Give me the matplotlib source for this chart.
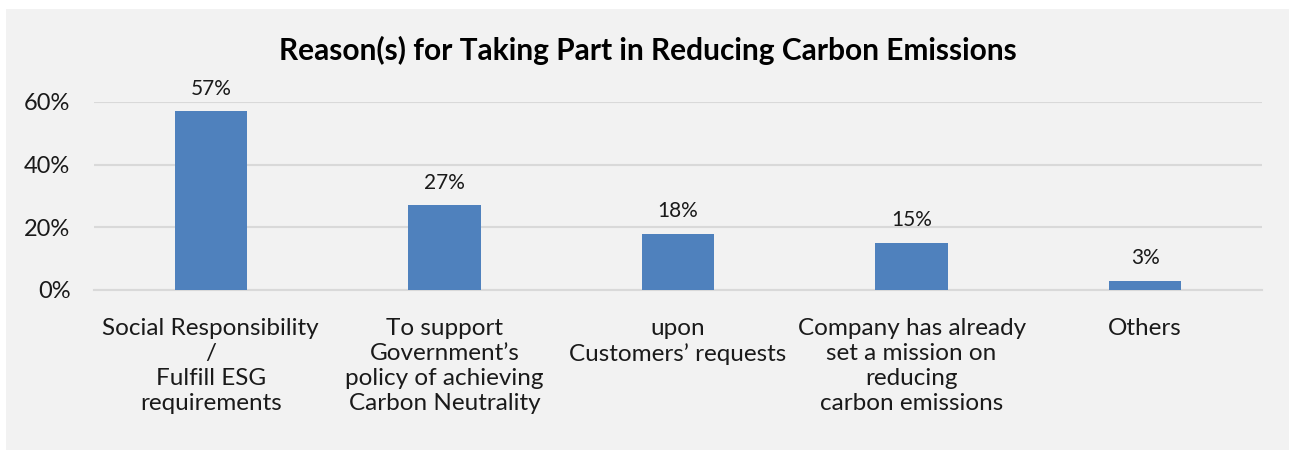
import matplotlib.pyplot as plt
from matplotlib.patches import Rectangle
from matplotlib.ticker import PercentFormatter

plt.rcParams['font.family'] = ['Lato', 'DejaVu Sans']

# survey results
reasons = [
    "Social Responsibility\n/\nFulfill ESG\nrequirements",
    "To support\nGovernment\u2019s\npolicy of achieving\nCarbon Neutrality",
    "upon\nCustomers\u2019 requests",
    "Company has already\nset a mission on\nreducing\ncarbon emissions",
    "Others",
]
shares = [0.57, 0.27, 0.18, 0.15, 0.03]
y_ticks = [0.0, 0.2, 0.4, 0.6]

bar_color = '#4f81bd'
grid_color = '#d9d9d9'
bg_color = '#f2f2f2'

fig = plt.figure(figsize=(12.89, 4.5), dpi=100, facecolor='white')
fig.patches.append(Rectangle((6 / 1289, 0), 1 - 6 / 1289, 1 - 9 / 450,
                             transform=fig.transFigure, facecolor=bg_color,
                             edgecolor='none', zorder=-10))

ax = fig.add_axes([94 / 1289, 160 / 450, 1168 / 1289, 188 / 450])
ax.set_facecolor('none')

x = range(len(reasons))
bars = ax.bar(x, shares, width=0.31, color=bar_color, zorder=3)

for rect, v in zip(bars, shares):
    ax.annotate(f"{v:.0%}", (rect.get_x() + rect.get_width() / 2, v),
                xytext=(0, 9), textcoords='offset points',
                ha='center', va='bottom', fontsize=15, color='#1a1a1a')

ax.set_xlim(-0.5, len(reasons) - 0.5)
ax.set_ylim(0, 0.6)
ax.set_yticks(y_ticks)
ax.yaxis.set_major_formatter(PercentFormatter(1.0, decimals=0))
ax.set_xticks(list(x))
ax.set_xticklabels(reasons, fontsize=17.5, linespacing=1.23, color='#1a1a1a')
ax.tick_params(axis='y', labelsize=17, colors='#1a1a1a', length=0, pad=17)
ax.tick_params(axis='x', length=0, pad=20)

ax.grid(axis='y', color=grid_color, linewidth=1.5, zorder=0)
for side in ['top', 'right', 'left']:
    ax.spines[side].set_visible(False)
ax.spines['bottom'].set_color(grid_color)
ax.spines['bottom'].set_linewidth(1.5)

fig.text(0.5025, 1 - 50 / 450, "Reason(s) for Taking Part in Reducing Carbon Emissions",
         ha='center', va='center', fontsize=21.5, fontweight='bold', color='#000000')

fig.savefig('out.png', dpi=100, facecolor=fig.get_facecolor())
